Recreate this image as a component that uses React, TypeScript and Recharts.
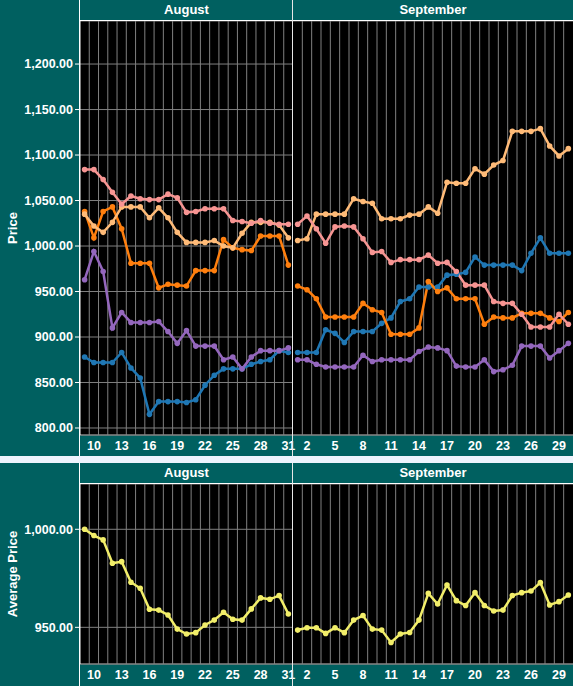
import { LineChart, Line, XAxis, YAxis, CartesianGrid, ReferenceLine } from "recharts"

// days of each facet
const augDays = [9, 10, 11, 12, 13, 14, 15, 16, 17, 18, 19, 20, 21, 22, 23, 24, 25, 26, 27, 28, 29, 30, 31]
const sepDays = [1, 2, 3, 4, 5, 6, 7, 8, 9, 10, 11, 12, 13, 14, 15, 16, 17, 18, 19, 20, 21, 22, 23, 24, 25, 26, 27, 28, 29, 30]
const augLabels = [10, 13, 16, 19, 22, 25, 28, 31]
const sepLabels = [2, 5, 8, 11, 14, 17, 20, 23, 26, 29]

const priceTicks = [800, 850, 900, 950, 1000, 1050, 1100, 1150, 1200]
const avgTicks = [950, 1000]

// price series, August
const pinkAug = [1084, 1084, 1073, 1059, 1046, 1055, 1052, 1051, 1051, 1057, 1053, 1037, 1038, 1041, 1041, 1041, 1028, 1027, 1025, 1028, 1025, 1024, 1024]
const lightOrangeAug = [1035, 1022, 1015, 1026, 1043, 1043, 1043, 1031, 1042, 1031, 1015, 1004, 1004, 1004, 1006, 1000, 998, 1014, 1026, 1026, 1026, 1023, 1009]
const orangeAug = [1038, 1009, 1038, 1043, 1019, 981, 981, 981, 954, 958, 957, 956, 973, 973, 973, 1007, 998, 996, 995, 1011, 1011, 1011, 979]
const blueAug = [878, 872, 872, 872, 883, 866, 855, 815, 829, 829, 829, 828, 831, 847, 858, 865, 865, 865, 870, 873, 875, 885, 883]
const purpleAug = [963, 994, 972, 910, 927, 916, 916, 916, 917, 906, 893, 907, 890, 890, 890, 875, 878, 865, 878, 885, 885, 885, 888]

// price series, September
const pinkSep = [1024, 1033, 1019, 1003, 1021, 1022, 1021, 1008, 993, 994, 982, 985, 985, 985, 990, 981, 982, 972, 957, 957, 957, 939, 937, 937, 925, 911, 911, 911, 925, 914]
const lightOrangeSep = [1006, 1008, 1035, 1035, 1035, 1035, 1052, 1049, 1047, 1030, 1030, 1030, 1034, 1035, 1043, 1036, 1070, 1069, 1069, 1085, 1079, 1089, 1094, 1126, 1126, 1126, 1129, 1110, 1099, 1107]
const orangeSep = [956, 952, 942, 922, 922, 922, 922, 937, 930, 927, 903, 903, 903, 910, 961, 950, 954, 942, 942, 942, 914, 922, 921, 921, 926, 926, 926, 921, 917, 927]
const blueSep = [883, 883, 883, 908, 904, 894, 906, 906, 906, 915, 921, 939, 942, 955, 955, 955, 968, 969, 971, 988, 979, 979, 979, 979, 973, 992, 1009, 992, 992, 992]
const purpleSep = [875, 875, 870, 867, 867, 867, 867, 880, 873, 875, 875, 875, 875, 884, 889, 888, 885, 868, 867, 867, 875, 862, 864, 869, 890, 890, 890, 877, 885, 893]

// average price
const avgAug = [1000, 996.8, 994.6, 982.7, 983.5, 973, 969.9, 959.2, 958.8, 956.3, 949.1, 946.6, 947.3, 951.2, 953.7, 957.7, 954.1, 953.7, 959.4, 965, 964.3, 966.2, 956.8]
const avgSep = [948.6, 949.8, 949.8, 946.9, 949.8, 947.3, 953.7, 956, 949.1, 948.6, 942.3, 946.6, 947.4, 953.7, 967.3, 961.9, 971.6, 963.6, 961.1, 967.7, 961.1, 958.3, 958.8, 966.2, 967.7, 968.5, 972.8, 961.4, 963.1, 966.5]

const TEAL = "#006060"
const FONT = '"Liberation Sans", Arial, sans-serif'
const GRID = "#808080"

const colors = {
    blue: "#1f77b4",
    orange: "#ff7f0e",
    lightOrange: "#ffbb78",
    pink: "#f79593",
    purple: "#9467bd",
    yellow: "#f2ee6a",
}

type Series = { key: string; color: string; values: number[] }

const fmt = (v: number) =>
    v.toLocaleString("en-US", { minimumFractionDigits: 2, maximumFractionDigits: 2 })

function Facet({ days, labels, series, domain, yTicks, width, height, xHeight, showY }: {
    days: number[]
    labels: number[]
    series: Series[]
    domain: [number, number]
    yTicks: number[]
    width: number
    height: number
    xHeight: number
    showY: boolean
}) {
    const rows = days.map((day, i) => {
        const row: Record<string, number> = { day }
        series.forEach((s) => { row[s.key] = s.values[i] })
        return row
    })
    // vertical grid sits between days
    const bounds = days.slice(0, -1).map((d) => d + 0.5)
    const xDomain = [days[0] - 0.5, days[days.length - 1] + 0.5]
    const tickStyle = { fill: "#fff", fontSize: 12.5, fontWeight: 700, fontFamily: FONT }

    return (
        <LineChart width={width} height={height} data={rows} margin={{ top: 21, right: 0, bottom: 0, left: 0 }}
            style={{ overflow: "visible" }}>
            <CartesianGrid vertical={false} stroke={GRID} fill="#000" fillOpacity={1} />
            <XAxis
                dataKey="day"
                type="number"
                domain={xDomain}
                ticks={labels}
                interval={0}
                tickLine={false}
                tickSize={0}
                tickMargin={6}
                axisLine={{ stroke: "#8a8a8a" }}
                height={xHeight}
                tick={tickStyle}
            />
            {showY ? (
                <YAxis
                    domain={domain}
                    ticks={yTicks}
                    allowDataOverflow
                    width={80}
                    tickSize={5}
                    tickMargin={2}
                    tickFormatter={fmt}
                    axisLine={{ stroke: "#fff" }}
                    tickLine={{ stroke: "#fff" }}
                    tick={tickStyle}
                />
            ) : (
                <YAxis
                    domain={domain}
                    ticks={yTicks}
                    allowDataOverflow
                    width={0}
                    tick={false}
                    tickLine={false}
                    axisLine={false}
                />
            )}
            {bounds.map((b) => (
                <ReferenceLine key={b} x={b} stroke={GRID} strokeWidth={1} />
            ))}
            {series.map((s) => (
                <Line
                    key={s.key}
                    dataKey={s.key}
                    stroke={s.color}
                    strokeWidth={2.5}
                    dot={{ r: 2.8, fill: s.color, stroke: s.color, strokeWidth: 0 }}
                    activeDot={false}
                    isAnimationActive={false}
                />
            ))}
        </LineChart>
    )
}

function Panel({ top, height, xHeight, yLabel, augSeries, sepSeries, domain, yTicks }: {
    top: number
    height: number
    xHeight: number
    yLabel: string
    augSeries: Series[]
    sepSeries: Series[]
    domain: [number, number]
    yTicks: number[]
}) {
    const headStyle = {
        position: "absolute" as const,
        top: 0,
        height: 20,
        lineHeight: "20px",
        textAlign: "center" as const,
        color: "#fff",
        fontWeight: 700,
        fontSize: 13,
    }
    const plotMid = (21 + height - xHeight) / 2
    return (
        <div style={{ position: "absolute", left: 0, top, width: 573, height, background: TEAL }}>
            <div style={{ position: "absolute", left: 293, top: 0 }}>
                <Facet days={sepDays} labels={sepLabels} series={sepSeries} domain={domain} yTicks={yTicks}
                    width={280} height={height} xHeight={xHeight} showY={false} />
            </div>
            <div style={{ position: "absolute", left: 0, top: 0 }}>
                <Facet days={augDays} labels={augLabels} series={augSeries} domain={domain} yTicks={yTicks}
                    width={293} height={height} xHeight={xHeight} showY />
            </div>
            <div style={{ ...headStyle, left: 80, width: 213 }}>August</div>
            <div style={{ ...headStyle, left: 293, width: 280 }}>September</div>
            <div style={{ position: "absolute", left: 80, top: 20, width: 493, height: 1, background: "#fff" }} />
            <div style={{ position: "absolute", left: 79, top: 0, width: 1, height, background: "#fff" }} />
            <div style={{ position: "absolute", left: 292, top: 0, width: 1, height, background: "#e8e8e8" }} />
            <div style={{
                position: "absolute",
                left: 12,
                top: plotMid,
                transform: "translate(-50%, -50%) rotate(-90deg)",
                color: "#fff",
                fontWeight: 700,
                fontSize: 13,
                whiteSpace: "nowrap",
            }}>
                {yLabel}
            </div>
        </div>
    )
}

export default function App() {
    const augPrice: Series[] = [
        { key: "blue", color: colors.blue, values: blueAug },
        { key: "purple", color: colors.purple, values: purpleAug },
        { key: "orange", color: colors.orange, values: orangeAug },
        { key: "lightOrange", color: colors.lightOrange, values: lightOrangeAug },
        { key: "pink", color: colors.pink, values: pinkAug },
    ]
    const sepPrice: Series[] = [
        { key: "blue", color: colors.blue, values: blueSep },
        { key: "purple", color: colors.purple, values: purpleSep },
        { key: "orange", color: colors.orange, values: orangeSep },
        { key: "lightOrange", color: colors.lightOrange, values: lightOrangeSep },
        { key: "pink", color: colors.pink, values: pinkSep },
    ]

    return (
        <div style={{
            position: "absolute",
            left: 0,
            top: 0,
            width: 573,
            height: 686,
            overflow: "hidden",
            background: "#eef4fd",
            fontFamily: FONT,
        }}>
            <style>{"svg.recharts-surface { overflow: visible; }"}</style>
            <Panel top={0} height={456} xHeight={21} yLabel="Price"
                augSeries={augPrice} sepSeries={sepPrice}
                domain={[792.3, 1247.3]} yTicks={priceTicks} />
            <Panel top={463} height={223} xHeight={22} yLabel="Average Price"
                augSeries={[{ key: "avg", color: colors.yellow, values: avgAug }]}
                sepSeries={[{ key: "avg", color: colors.yellow, values: avgSep }]}
                domain={[931.3, 1023.1]} yTicks={avgTicks} />
        </div>
    )
}
